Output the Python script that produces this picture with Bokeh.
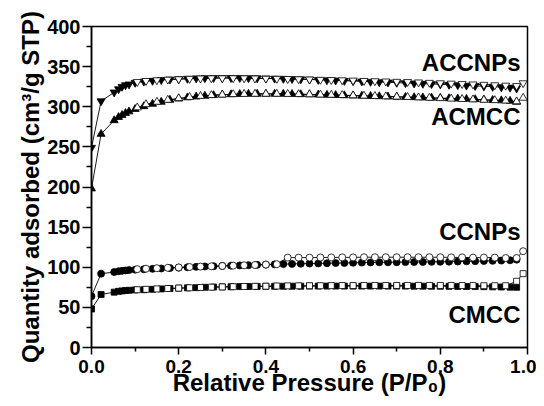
from bokeh.plotting import figure
from bokeh.embed import file_html
from bokeh.resources import INLINE
from bokeh.models import FixedTicker, Range1d
from bokeh.core.properties import value

# Relative pressure points (adsorption / desorption branches)
ads_p = [0.0, 0.022, 0.052, 0.062, 0.07, 0.078, 0.086, 0.1, 0.12, 0.14, 0.16, 0.18,
         0.2, 0.22, 0.24, 0.26, 0.28, 0.3, 0.32, 0.34, 0.36, 0.38, 0.4, 0.42, 0.44,
         0.46, 0.48, 0.5, 0.52, 0.54, 0.56, 0.58, 0.6, 0.62, 0.64, 0.66, 0.68, 0.7,
         0.72, 0.74, 0.76, 0.78, 0.8, 0.82, 0.84, 0.86, 0.88, 0.9, 0.92, 0.94, 0.96, 0.975]
des_p = [0.99, 0.975, 0.95, 0.925, 0.9, 0.875, 0.85, 0.825, 0.8, 0.775, 0.75, 0.725,
         0.7, 0.675, 0.65, 0.625, 0.6, 0.575, 0.55, 0.525, 0.5, 0.475, 0.45, 0.425,
         0.4, 0.375, 0.35, 0.325, 0.3, 0.275, 0.25, 0.225, 0.2, 0.175, 0.15, 0.125, 0.105]

accnps_ads = [249, 307, 318, 322, 325, 327, 328, 330, 331.5, 332.5, 333.5, 334,
              334.5, 335, 335.5, 335.8, 336, 336, 336, 336, 335.8, 335.6, 335.4, 335.2, 335,
              334.7, 334.4, 334, 333.6, 333.2, 332.8, 332.4, 332, 331.6, 331.2, 330.8, 330.4, 330,
              329.6, 329.2, 328.8, 328.4, 328, 327.5, 327, 326.5, 326, 325.5, 325, 324.5, 324, 323]
accnps_des = [329.5, 326, 326.5, 327, 327.5, 328, 328.5, 329, 329.5, 330, 330.5, 331,
              331.3, 331.7, 332, 332.4, 332.8, 333.2, 333.5, 333.8, 334.1, 334.4, 334.7, 335,
              335.2, 335.4, 335.6, 335.7, 335.7, 335.6, 335.4, 335, 334.5, 334, 333.2, 332.3, 331]

acmcc_ads = [198, 266, 283, 287, 289.5, 292, 294, 297, 300.5, 303.5, 306, 308.5,
             310, 311.5, 312.5, 313.5, 314.3, 315, 315.4, 315.7, 315.9, 316, 316, 316, 315.9,
             315.7, 315.5, 315.3, 315, 314.7, 314.4, 314.1, 313.8, 313.5, 313.2, 312.9, 312.6, 312.3,
             312, 311.7, 311.4, 311.1, 310.8, 310.4, 310, 309.6, 309.2, 308.8, 308.3, 307.8, 307.2, 306]
acmcc_des = [311, 306.5, 307.5, 308, 308.5, 309, 309.5, 310, 310.5, 311, 311.5, 312,
             312.4, 312.8, 313.2, 313.6, 314, 314.4, 314.7, 315, 315.3, 315.6, 315.8, 316,
             316, 316, 315.8, 315.5, 315, 314.3, 313.3, 312, 310.5, 308.5, 306, 303, 299]

ccnps_ads = [64, 92, 94, 95, 95.5, 96, 96.5, 97, 97.5, 98, 98.5, 99,
             99.5, 100, 100.5, 101, 101.3, 101.6, 102, 102.3, 102.6, 103, 103.3, 103.6, 103.9,
             104.2, 104.4, 104.6, 104.8, 105, 105.2, 105.4, 105.6, 105.8, 106, 106.1, 106.2, 106.3,
             106.4, 106.5, 106.6, 106.7, 106.8, 107, 107.2, 107.4, 107.6, 107.8, 108, 108.3, 108.7, 109.5]
ccnps_des = [120, 111.5, 111.5, 112, 112, 112, 112.3, 112.3, 112.5, 112.5, 112.5, 112.5,
             112.5, 112.5, 112.5, 112.5, 112.3, 112.3, 112.2, 112.2, 112, 112, 112, 103.8,
             103.3, 102.8, 102.4, 102, 101.6, 101.2, 100.8, 100.3, 99.8, 99.3, 98.8, 98.2, 97.6]

cmcc_ads = [48, 66, 69, 70, 70.5, 71, 71.3, 71.7, 72, 72.5, 73, 73.5,
            74, 74.3, 74.6, 75, 75.3, 75.5, 75.7, 75.9, 76, 76.1, 76.2, 76.3, 76.3,
            76.4, 76.4, 76.5, 76.5, 76.5, 76.5, 76.5, 76.5, 76.5, 76.5, 76.5, 76.5, 76.5,
            76.5, 76.4, 76.4, 76.3, 76.3, 76.2, 76.1, 76, 75.9, 75.8, 75.6, 75.4, 75.2, 75]
cmcc_des = [92, 82.5, 77, 77, 77, 77.2, 77.2, 77.3, 77.3, 77.3, 77.3, 77.3,
            77.3, 77.3, 77.3, 77.3, 77.2, 77.2, 77.1, 77, 77, 76.9, 76.8, 76.6,
            76.4, 76.2, 76, 75.8, 75.5, 75.2, 74.8, 74.4, 74, 73.5, 73, 72.5, 72]

label_texts = ["ACCNPs", "ACMCC", "CCNPs", "CMCC"]
label_y = [355, 288, 144, 41]
label_x = [0.984, 0.984, 0.984, 0.984]

x_ticks = [0.0, 0.2, 0.4, 0.6, 0.8, 1.0]
y_ticks = [0, 50, 100, 150, 200, 250, 300, 350, 400]

FONT = "Liberation Sans"

p = figure(width=536, height=398, output_backend="svg", toolbar_location=None,
           x_range=Range1d(0, 1), y_range=Range1d(0, 400),
           min_border_left=91, min_border_right=9, min_border_top=26, min_border_bottom=50)
p.background_fill_color = "white"
p.border_fill_color = "white"
p.grid.visible = False
p.outline_line_color = "black"
p.outline_line_width = 1.5

series = [
    (accnps_ads, accnps_des, "inverted_triangle", 8),
    (acmcc_ads, acmcc_des, "triangle", 8),
    (ccnps_ads, ccnps_des, "circle", 7),
    (cmcc_ads, cmcc_des, "square", 6),
]
for ads, des, mk, sz in series:
    p.line(ads_p, ads, line_color="black", line_width=0.9)
    p.line(des_p, des, line_color="black", line_width=0.9)
    p.scatter(ads_p, ads, marker=mk, size=sz, fill_color="black", line_color="black", line_width=0.8)
    p.scatter(des_p, des, marker=mk, size=sz, fill_color="white", line_color="black", line_width=0.8)

p.text(x=label_x, y=label_y, text=label_texts, text_align="right", text_baseline="middle",
       text_font=value(FONT), text_font_style="bold", text_font_size="24px", text_color="black")

for ax in (p.xaxis[0], p.yaxis[0]):
    ax.axis_line_width = 1.5
    ax.axis_line_color = "black"
    ax.major_tick_line_width = 1.5
    ax.minor_tick_line_width = 1.5
    ax.major_tick_in = 0
    ax.minor_tick_in = 0
    ax.major_label_text_font = FONT
    ax.major_label_text_font_style = "bold"
    ax.major_label_text_color = "black"
    ax.axis_label_text_font = FONT
    ax.axis_label_text_font_style = "bold"
    ax.axis_label_text_font_size = "24px"
    ax.axis_label_text_color = "black"

p.xaxis.ticker = FixedTicker(ticks=x_ticks, minor_ticks=[0.1, 0.3, 0.5, 0.7, 0.9])
p.yaxis.ticker = FixedTicker(ticks=y_ticks, minor_ticks=[25, 75, 125, 175, 225, 275, 325, 375])
p.xaxis.major_label_overrides = {t: f"{t:.1f}" for t in x_ticks}
p.xaxis.major_label_text_font_size = "19px"
p.xaxis.major_tick_out = 7
p.xaxis.minor_tick_out = 4
p.xaxis.major_label_standoff = 5
p.xaxis.axis_label = "Relative Pressure (P/P₀)"
p.xaxis.axis_label_standoff = -7
p.yaxis.major_label_text_font_size = "20px"
p.yaxis.major_tick_out = 9
p.yaxis.minor_tick_out = 5
p.yaxis.major_label_standoff = 2
p.yaxis.axis_label = "Quantity adsorbed (cm³/g STP)"
p.yaxis.axis_label_standoff = 0

open("out.html", "w").write(file_html(p, INLINE))
